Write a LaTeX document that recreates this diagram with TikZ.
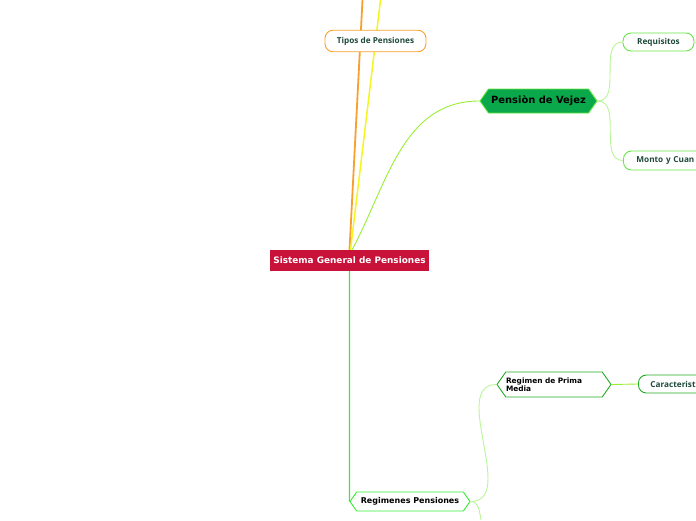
\documentclass[tikz,border=0pt]{standalone}
\usepackage{fontspec}
\setmainfont{DejaVu Sans}
\newfontfamily\topicfont{Open Sans}
\usepackage{xcolor}
\definecolor{crimson}{HTML}{C8123A}
\definecolor{amber}{HTML}{F7A030}
\definecolor{lemon}{HTML}{F5F520}
\definecolor{lime}{HTML}{99EE33}
\definecolor{grass}{HTML}{33EE33}
\definecolor{paleleaf}{HTML}{BBF599}
\definecolor{leaf}{HTML}{66E644}
\definecolor{forest}{HTML}{22AA22}
\definecolor{emerald}{HTML}{0AA84A}
\definecolor{pine}{HTML}{1F4A3A}
\usetikzlibrary{shapes.symbols,positioning}
\tikzset{
  root/.style   ={fill=crimson,text=white,font=\fontsize{8.9}{10}\selectfont\bfseries,
                  minimum width=159pt,minimum height=21pt,inner sep=0pt},
  topic/.style  ={draw,fill=white,rounded corners=8pt,text=pine,line width=0.9pt,
                  font=\topicfont\fontsize{8.2}{10}\selectfont\bfseries,
                  minimum height=19pt,inner sep=0pt},
  hexa/.style   ={shape=signal,signal to=west and east,signal pointer angle=110,
                  draw,line width=0.9pt,inner sep=0pt,
                  font=\fontsize{8}{9}\selectfont\bfseries},
  branch/.style ={line width=0.9pt},
  twig/.style   ={draw=paleleaf,line width=0.9pt},
}

\begin{document}
\begin{tikzpicture}[x=1pt,y=-1pt]
\useasboundingbox (0,0) rectangle (696,520);
\clip (0,0) rectangle (696,520);

%================= centre and its branches
\coordinate (toporange) at (362.5,0);
\coordinate (topyellow) at (380.5,0);
\coordinate (downleft) at (481,520);
\draw[branch,draw=amber,line width=1.8pt] (349.5,250) -- (toporange);
\draw[branch,draw=lemon,line width=1.5pt] (350.5,250) -- (topyellow);

\node[topic,draw=amber,minimum width=101pt,minimum height=21.5pt] (tipos) at (375.5,41) {Tipos de Pensiones};

\node[hexa,draw=leaf,fill=emerald,minimum width=117pt,minimum height=24pt,
      font=\fontsize{9.9}{11}\selectfont\bfseries] (vejez) at (538.5,101) {Pensiòn de Vejez};
\node[root] (sgp) at (349.5,260.5) {Sistema General de Pensiones};
\draw[branch,draw=lime] (352,250) to[out=62,in=180] (vejez.west);

%================= Pension de Vejez
\node[topic,draw=leaf,minimum width=71pt,minimum height=18pt] (req) at (658.5,42) {Requisitos};
\node[topic,draw=leaf,minimum width=100pt,anchor=west,align=left,text width=100pt,
      minimum height=19pt] (monto) at (623,160.5) {\hspace*{13pt}Monto y Cuan};
\coordinate (reqout) at (697,42);
\draw[twig] (vejez.east) to[out=0,in=180] (req.west);
\draw[twig] (vejez.east) to[out=0,in=180] (monto.west);
\draw[twig] (req.east) -- (reqout);

%================= Regimenes Pensiones
\node[hexa,draw=grass,fill=white,minimum width=120pt,minimum height=19pt] (regim) at (410,501.5) {Regimenes Pensiones};
\draw[branch,draw=grass,line width=1.3pt] (sgp.south) -- (regim.west);

\node[hexa,draw=forest,fill=white,minimum width=114pt,minimum height=25pt,
      font=\fontsize{7.4}{8.5}\selectfont\bfseries,align=left,text width=96pt] (prima) at (554,384.5)
  {Regimen de Prima\\Media};
\node[topic,draw=forest,minimum width=80pt,anchor=west,align=left,text width=80pt,
      minimum height=18pt] (carac) at (638,384) {\hspace*{12pt}Caracterist};
\draw[twig] (regim.east) to[out=0,in=180] (prima.west);
\draw[twig] (regim.east) to[out=0,in=100] (downleft);
\draw[twig,draw=lime] (prima.east) -- (carac.west);
\end{tikzpicture}
\end{document}
